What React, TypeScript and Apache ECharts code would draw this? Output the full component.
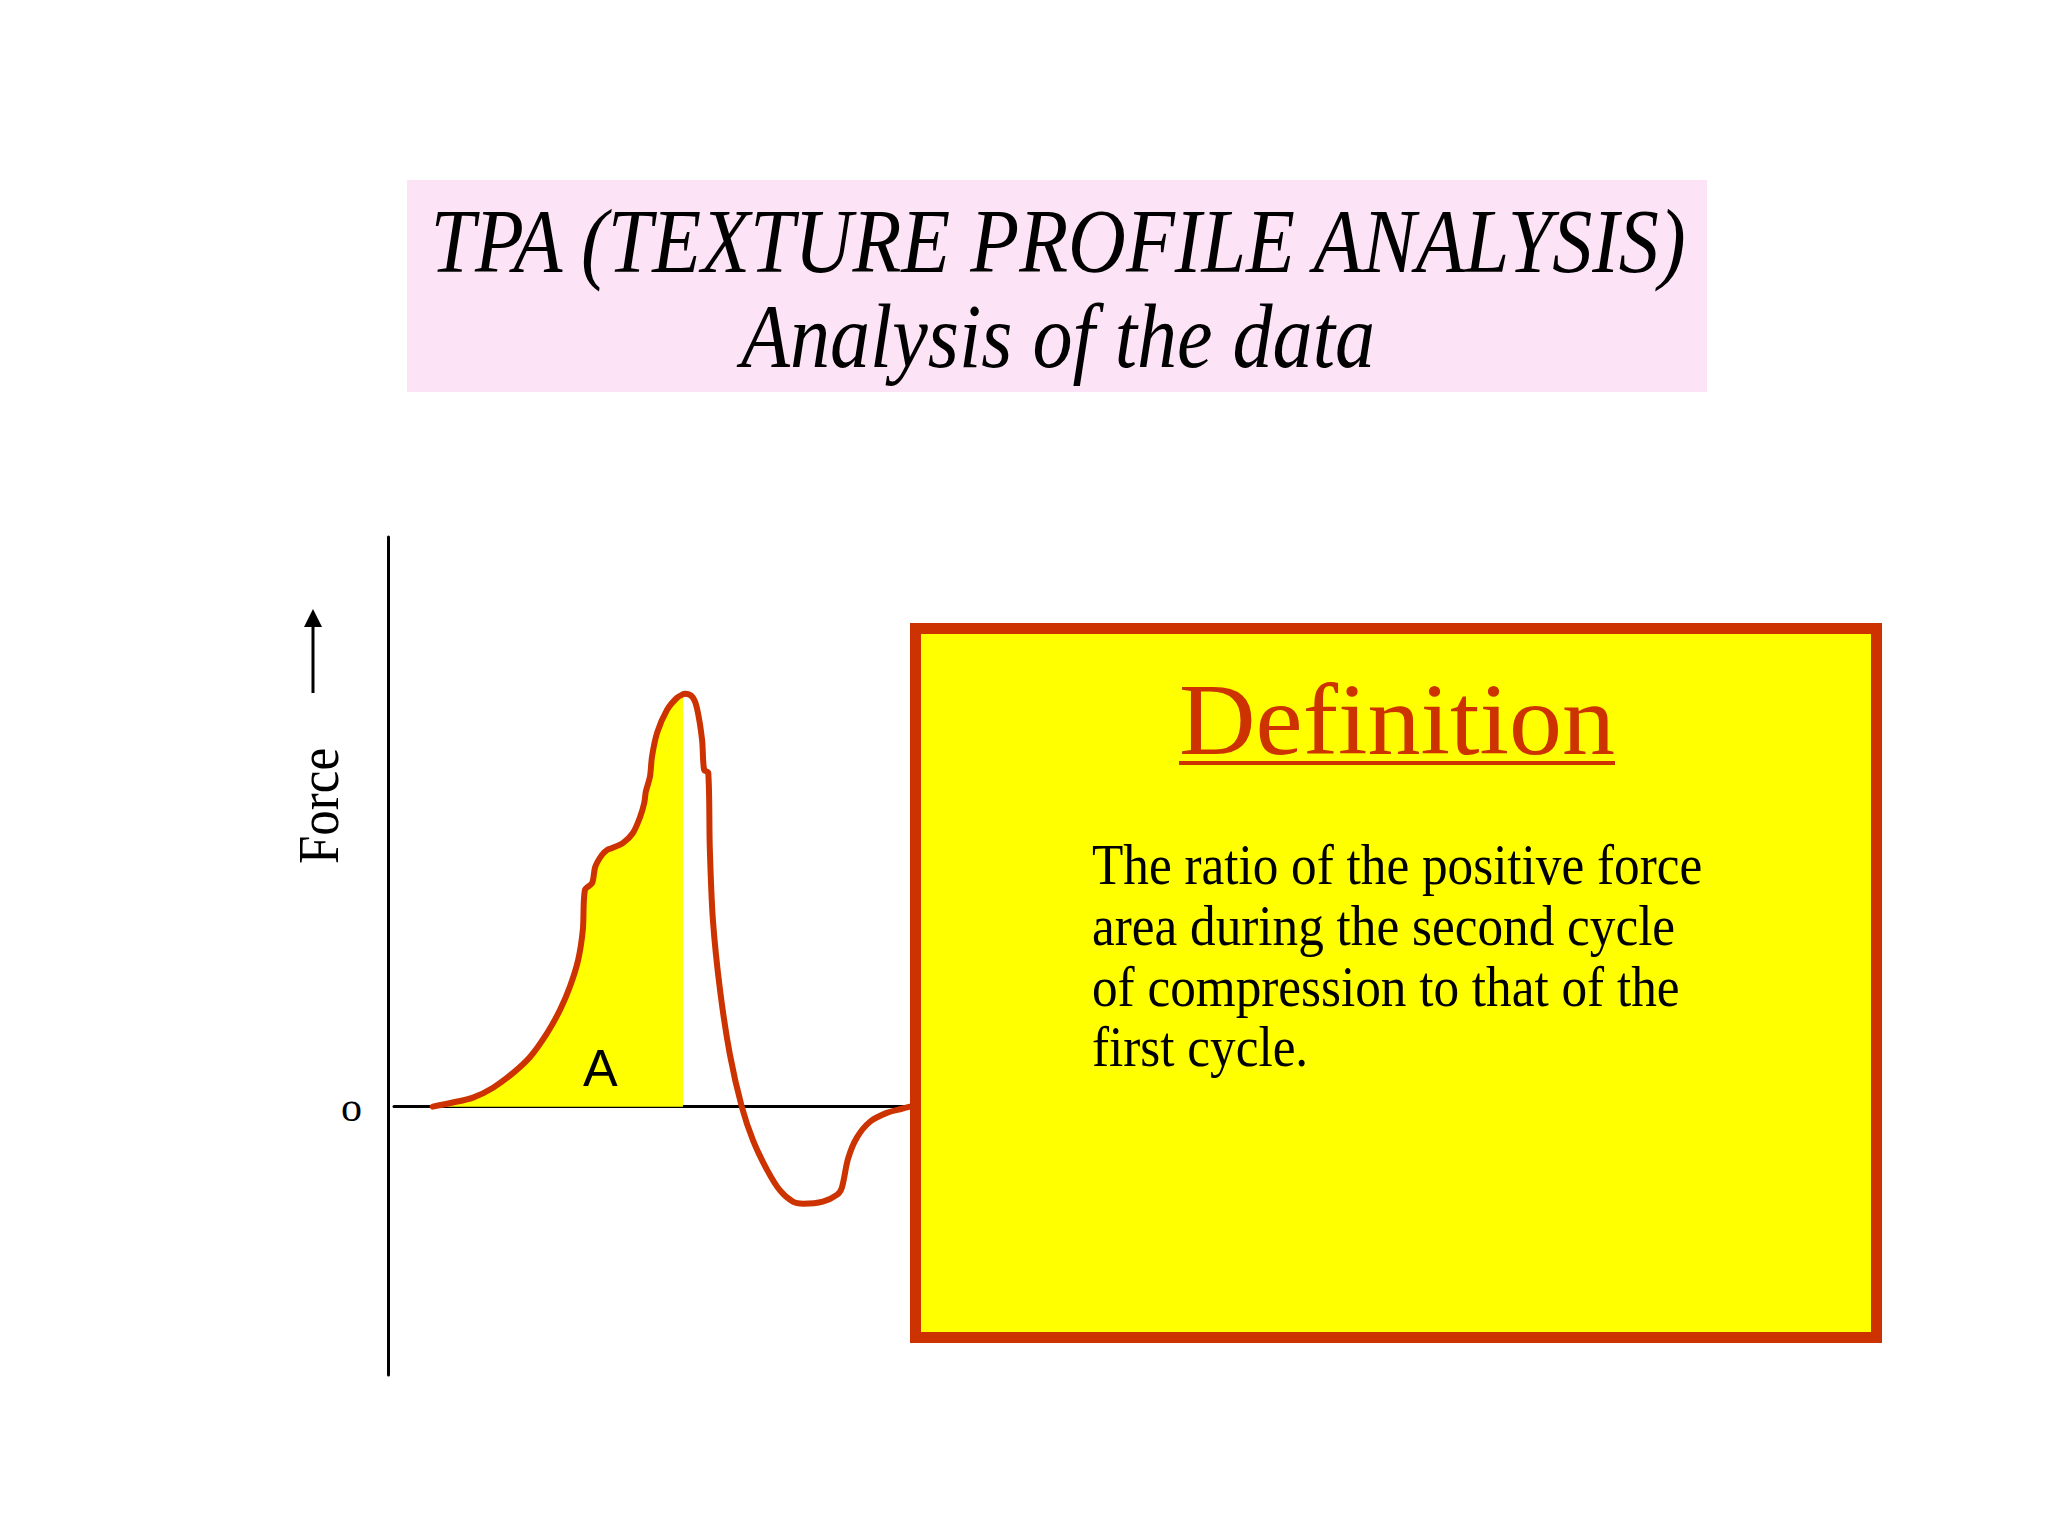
import React, { useEffect, useRef } from "react";
import * as echarts from "echarts";

// Force–time curve of the TPA (first compression cycle and withdrawal)
const timeValues = [
  7.5, 11.4, 15.3, 19.2, 23.1, 26.4, 29.7, 32.2, 34.1, 35.7,
  36.6, 37.0, 38.4, 39.0, 40.3, 41.3, 42.4, 44.4, 46.3, 47.7,
  48.5, 48.8, 49.6, 50.0, 51.0, 52.9, 54.8, 56.0, 56.4, 57.8,
  58.7, 59.7, 60.1, 60.9, 61.2, 61.8, 63.2, 65.1, 67.4, 69.6,
  72.3, 74.8, 77.3, 79.3, 83.1, 85.9, 86.8, 88.0, 89.7, 92.3,
  95.5, 98.4, 100,
];
const forceValues = [
  0, 1.0, 2.2, 4.6, 8.2, 12.1, 17.9, 23.5, 29.1, 35.6,
  42.9, 52.5, 54.2, 58.1, 61.0, 62.2, 62.7, 63.9, 66.3, 70.2,
  73.6, 76.3, 79.9, 84.8, 90.6, 96.1, 99.0, 99.9, 100, 99.3,
  96.6, 88.9, 81.6, 80.9, 62.7, 45.3, 28.1, 12.6, 0, -8.2,
  -15.3, -20.3, -23.0, -23.5, -23.0, -21.3, -19.6, -12.6, -7.5, -3.6,
  -1.5, -0.5, 0,
];
// Shaded area "A" ends at this time
const areaEndTime = 56.0;
const areaLabel = "A";
const areaLabelTime = 40;
const areaLabelForce = 9.3;

const yTickLabels = ["o"];
const yTickValues = [0];

const titleLines = ["TPA (TEXTURE PROFILE ANALYSIS)", "Analysis of the data"];
const axisName = "Force";
const definitionTitle = "Definition";
const definitionLines = [
  "The ratio of the positive force",
  "area during the second cycle",
  "of compression to that of the",
  "first cycle.",
];

const RED = "#cc3300";
const YELLOW = "#ffff00";
const SERIF = "'Liberation Serif', 'Times New Roman', serif";

export default function App() {
  const ref = useRef<HTMLDivElement>(null);

  useEffect(() => {
    if (!ref.current) return;
    const chart = echarts.init(ref.current, undefined, { renderer: "svg" });

    const curve = timeValues.map((t, i) => [t, forceValues[i]]);
    const areaData = curve.filter((p) => p[0] <= areaEndTime);

    const bodyBaselines = [884, 945, 1006, 1066];

    const option: any = {
      animation: false,
      backgroundColor: "#ffffff",
      grid: { left: 394, top: 537, width: 516, height: 838, containLabel: false },
      xAxis: {
        type: "value",
        min: 0,
        max: 100,
        axisLine: { show: true, onZero: true, lineStyle: { color: "#000", width: 3 } },
        axisTick: { show: false },
        axisLabel: { show: false },
        splitLine: { show: false },
      },
      yAxis: {
        type: "value",
        min: -65,
        max: 138,
        offset: 6,
        axisLine: { show: true, onZero: false, lineStyle: { color: "#000", width: 3 } },
        axisTick: { show: false },
        splitLine: { show: false },
        axisLabel: {
          show: true,
          customValues: yTickValues,
          formatter: (v: number) => yTickLabels[yTickValues.indexOf(v)] ?? "",
          margin: 26,
          fontFamily: SERIF,
          fontSize: 42,
          color: "#000",
        },
      },
      series: [
        {
          name: "area A",
          type: "line",
          data: areaData,
          smooth: 0.3,
          showSymbol: false,
          lineStyle: { width: 0, color: YELLOW },
          areaStyle: { color: YELLOW, opacity: 1, origin: 0 },
          z: 1,
          markPoint: {
            symbol: "circle",
            symbolSize: 2,
            itemStyle: { color: "rgba(0,0,0,0)" },
            label: {
              show: true,
              position: "inside",
              formatter: areaLabel,
              fontFamily: "'Liberation Sans', Arial, sans-serif",
              fontSize: 52,
              color: "#000",
            },
            data: [{ coord: [areaLabelTime, areaLabelForce] }],
          },
        },
        {
          name: "force",
          type: "line",
          data: curve,
          smooth: 0.3,
          showSymbol: false,
          lineStyle: { width: 6, color: RED, cap: "round", join: "round" },
          z: 3,
        },
      ],
      graphic: [
        {
          type: "rect",
          shape: { x: 407, y: 180, width: 1300, height: 212 },
          style: { fill: "#fce4f6" },
          z: 1,
        },
        {
          type: "text",
          x: 1058,
          y: 242,
          scaleX: 0.88,
          style: {
            text: titleLines[0],
            fontFamily: SERIF,
            fontStyle: "italic",
            fontSize: 91,
            fill: "#000",
            align: "center",
            verticalAlign: "middle",
          },
          z: 2,
        },
        {
          type: "text",
          x: 1058,
          y: 337,
          scaleX: 0.88,
          style: {
            text: titleLines[1],
            fontFamily: SERIF,
            fontStyle: "italic",
            fontSize: 91,
            fill: "#000",
            align: "center",
            verticalAlign: "middle",
          },
          z: 2,
        },
        {
          type: "text",
          x: 318,
          y: 806,
          rotation: Math.PI / 2,
          scaleX: 0.88,
          style: {
            text: axisName,
            fontFamily: SERIF,
            fontSize: 58,
            fill: "#000",
            align: "center",
            verticalAlign: "middle",
          },
          z: 2,
        },
        {
          type: "line",
          shape: { x1: 313, y1: 693, x2: 313, y2: 622 },
          style: { stroke: "#000", lineWidth: 3 },
          z: 2,
        },
        {
          type: "polygon",
          shape: { points: [[313, 609], [304, 627], [322, 627]] },
          style: { fill: "#000" },
          z: 2,
        },
        {
          type: "rect",
          shape: { x: 915.5, y: 628.5, width: 961, height: 709 },
          style: { fill: YELLOW, stroke: RED, lineWidth: 11 },
          z: 100,
        },
        {
          type: "text",
          x: 1397,
          y: 720,
          scaleX: 1.04,
          style: {
            text: definitionTitle,
            fontFamily: SERIF,
            fontSize: 102,
            fill: RED,
            align: "center",
            verticalAlign: "middle",
          },
          z: 101,
        },
        {
          type: "rect",
          shape: { x: 1179, y: 761, width: 436, height: 4 },
          style: { fill: RED },
          z: 101,
        },
        ...definitionLines.map((line, i) => ({
          type: "text",
          x: 1092,
          y: bodyBaselines[i] - 19,
          scaleX: 0.915,
          style: {
            text: line,
            fontFamily: SERIF,
            fontSize: 56,
            fill: "#000",
            align: "left",
            verticalAlign: "middle",
          },
          z: 101,
        })),
      ],
    };

    chart.setOption(option);
    return () => chart.dispose();
  }, []);

  return (
    <div
      ref={ref}
      style={{ position: "fixed", left: 0, top: 0, width: 2048, height: 1536, background: "#fff" }}
    />
  );
}
